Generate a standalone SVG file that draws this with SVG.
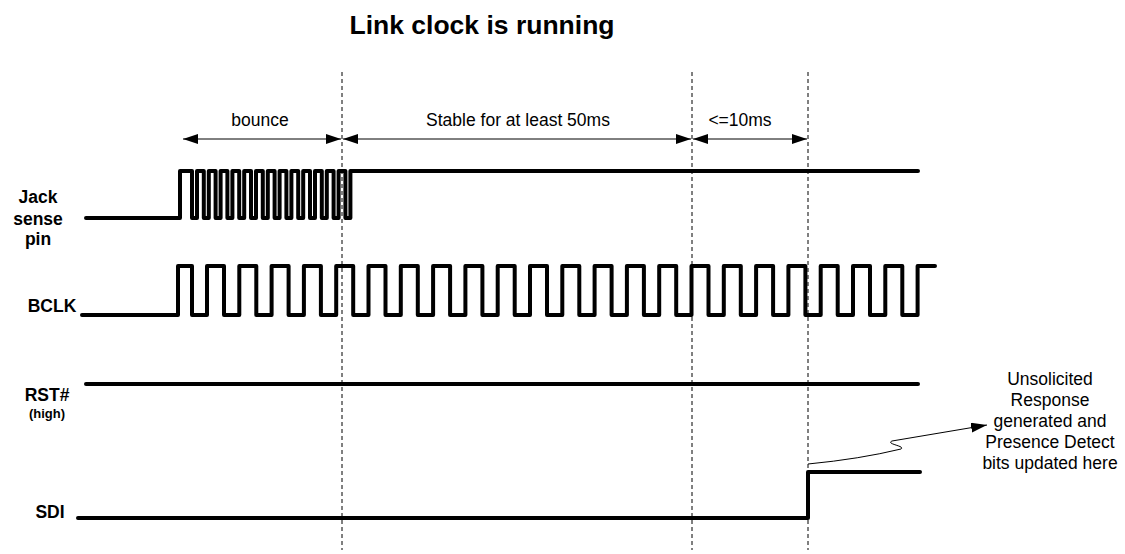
<svg xmlns="http://www.w3.org/2000/svg" width="1125" height="554" viewBox="0 0 1125 554">
<style>
.lbl{font-family:"Liberation Sans",Arial,sans-serif;font-weight:bold;font-size:17.5px;fill:#000;text-anchor:middle}
.txt{font-family:"Liberation Sans",Arial,sans-serif;font-size:17.5px;fill:#000;text-anchor:middle}
.wave{fill:none;stroke:#000;stroke-width:4;stroke-linecap:round;stroke-linejoin:round}
.dash{stroke:#000;stroke-width:1;stroke-dasharray:4,3;fill:none}
.dim{stroke:#000;stroke-width:1;fill:none;marker-start:url(#ah);marker-end:url(#ah)}
</style>
<defs>
<marker id="ah" viewBox="0 0 15 10" refX="15" refY="5" markerWidth="15" markerHeight="10" markerUnits="userSpaceOnUse" orient="auto-start-reverse">
<path d="M0,0 L15,5 L0,10 z" fill="#000"/>
</marker>
<marker id="ah2" viewBox="0 0 16 10" refX="16" refY="5" markerWidth="16" markerHeight="10" markerUnits="userSpaceOnUse" orient="auto">
<path d="M0,0 L16,5 L0,10 z" fill="#000"/>
</marker>
</defs>
<rect width="1125" height="554" fill="#fff"/>

<g id="title">
<text x="482" y="34" class="lbl" style="font-size:26.5px">Link clock is running</text>
</g>

<g id="connectors">
<line class="dash" x1="342" y1="72" x2="342" y2="550"/>
<line class="dash" x1="692" y1="72" x2="692" y2="550"/>
<line class="dash" x1="808" y1="72" x2="808" y2="550"/>
<line class="dim" x1="183" y1="139" x2="341" y2="139"/>
<line class="dim" x1="343" y1="139" x2="691" y2="139"/>
<line class="dim" x1="693" y1="139" x2="807" y2="139"/>
<path d="M808,464 Q860,459 901,449 C906,446 885,444 892,441 L987,425" fill="none" stroke="#000" stroke-width="1" marker-end="url(#ah2)"/>
</g>

<g id="dim-labels">
<text x="260" y="126" class="txt">bounce</text>
<text x="518" y="126" class="txt">Stable for at least 50ms</text>
<text x="740" y="126" class="txt">&lt;=10ms</text>
</g>

<g id="jack-sense">
<text class="lbl"><tspan x="38" y="203">Jack</tspan><tspan x="38" y="224.5">sense</tspan><tspan x="38" y="245">pin</tspan></text>
<path class="wave" d="M86,218 H180 V171 H192 V218 H197 V171 H203.8 V218 H208.8 V171 H215.6 V218 H220.6 V171 H227.4 V218 H232.4 V171 H239.2 V218 H244.2 V171 H251 V218 H256 V171 H262.8 V218 H267.8 V171 H274.6 V218 H279.6 V171 H286.4 V218 H291.4 V171 H298.2 V218 H303.2 V171 H310 V218 H315 V171 H321.8 V218 H326.8 V171 H333.6 V218 H338.6 V171 H345.4 V218 H350.4 V171 H918"/>
</g>

<g id="bclk">
<text x="52" y="312" class="lbl">BCLK</text>
<path class="wave" d="M82,315 H178 V266 H192 V315 H207 V266 H224 V315 H239.3 V266 H256.3 V315 H271.6 V266 H288.6 V315 H303.9 V266 H320.9 V315 H336.2 V266 H353.2 V315 H368.5 V266 H385.5 V315 H400.8 V266 H417.8 V315 H433.1 V266 H450.1 V315 H465.4 V266 H482.4 V315 H497.7 V266 H514.7 V315 H530 V266 H547 V315 H562.3 V266 H579.3 V315 H594.6 V266 H611.6 V315 H626.9 V266 H643.9 V315 H659.2 V266 H676.2 V315 H691.5 V266 H708.5 V315 H723.8 V266 H740.8 V315 H756.1 V266 H773.1 V315 H788.4 V266 H805.4 V315 H820.7 V266 H837.7 V315 H853 V266 H870 V315 H885.3 V266 H902.3 V315 H917.6 V266 H935"/>
</g>

<g id="rst">
<text x="47" y="401" class="lbl">RST#</text>
<text x="47" y="418" class="lbl" style="font-size:13px">(high)</text>
<path class="wave" d="M86,384 H918"/>
</g>

<g id="sdi">
<text x="50" y="518" class="lbl">SDI</text>
<path class="wave" d="M78,518 H808 V472 H920"/>
</g>

<g id="note">
<text class="txt"><tspan x="1050" y="385">Unsolicited</tspan><tspan x="1050" y="406">Response</tspan><tspan x="1050" y="427">generated and</tspan><tspan x="1050" y="448">Presence Detect</tspan><tspan x="1050" y="469">bits updated here</tspan></text>
</g>
</svg>
